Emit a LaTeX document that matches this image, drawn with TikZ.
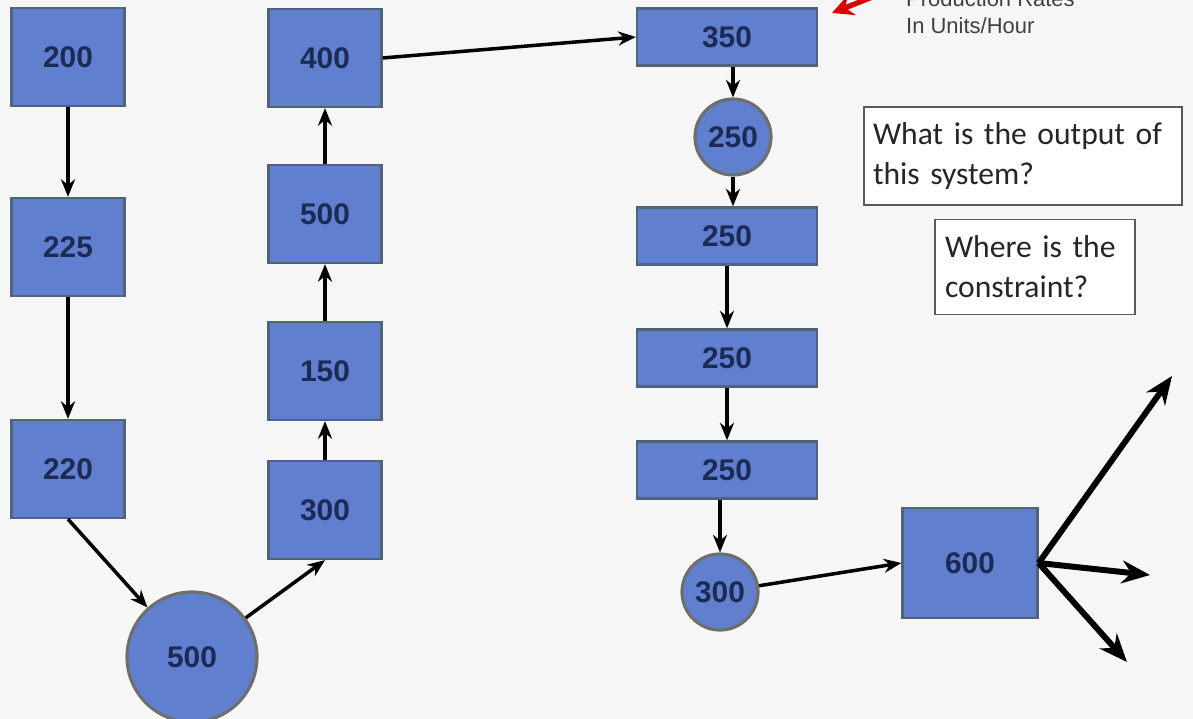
\documentclass[tikz,border=0pt]{standalone}
\usepackage{fontspec}
\setmainfont{Liberation Sans}
\newfontfamily\qfont{Carlito}
\usetikzlibrary{arrows.meta}

\definecolor{paper}{HTML}{F6F6F6}
\definecolor{boxblue}{HTML}{6080CF}
\definecolor{edgegray}{HTML}{4F6478}
\definecolor{ringgray}{HTML}{6E6E6E}
\definecolor{numblue}{HTML}{1C2A55}

\tikzset{
	station/.style={draw=edgegray, fill=boxblue, line width=1.3pt, minimum width=2.26cm, minimum height=1.96cm,
		inner sep=0pt, text=numblue, font=\bfseries\fontsize{17}{17}\selectfont},
	wide/.style={station, minimum width=3.6cm, minimum height=1.14cm},
	buffer/.style={circle, draw=ringgray, fill=boxblue, line width=1.8pt, inner sep=0pt,
		text=numblue, font=\bfseries\fontsize{17}{17}\selectfont},
	flow/.style={-{Stealth[length=10pt,width=8pt]}, line width=2pt},
	bigflow/.style={-{Stealth[length=16pt,width=13pt]}, line width=3.4pt},
	question/.style={draw=gray!70!black, fill=white, line width=1.1pt, align=left, inner sep=5pt,
		text=black!85, font=\qfont\fontsize{18}{22.7}\selectfont},
}

\begin{document}
\begin{tikzpicture}[x=0.02cm, y=-0.02cm]
	\clip (0,0) rectangle (1193,719);
	\fill[paper] (0,0) rectangle (1193,719);

	% first line
	\node[station] (s200) at (68,57) {200};
	\node[station] (s225) at (68,247) {225};
	\node[station] (s220) at (68,469) {220};
	\node[buffer, minimum size=2.6cm] (b500) at (192,657) {500};
	\node[station] (s300) at (325,510) {300};
	\node[station] (s150) at (325,371) {150};
	\node[station] (s500) at (325,214) {500};
	\node[station] (s400) at (325,58) {400};

	% second line
	\node[wide] (w350) at (727,37) {350};
	\node[buffer, minimum size=1.52cm] (b250) at (733,137) {250};
	\node[wide] (w250a) at (727,236) {250};
	\node[wide] (w250b) at (727,358) {250};
	\node[wide] (w250c) at (727,470) {250};
	\node[buffer, minimum size=1.52cm] (b300) at (720,592) {300};
	\node[station, minimum width=2.7cm, minimum height=2.2cm] (s600) at (970,563) {600};

	% notes
	\node[question, minimum width=6.2cm, minimum height=1.96cm, text width=6.0cm] (q1) at (1023,156)
		{What is the output of\\this system?};
	\node[question, minimum width=4cm, minimum height=1.9cm, text width=3.6cm] (q2) at (1035,267)
		{Where is the\\constraint?};
	\node[align=left, anchor=west, text=black!75, font=\fontsize{12.5}{15}\selectfont] (rates) at (900,12)
		{Production Rates\\In Units/Hour};
	\coordinate (rtail) at (880,-6);
	\coordinate (rtip) at (832,13);
	\draw[-{Stealth[length=12pt,width=12pt]}, red!85!black, line width=3pt] (rtail) -- (rtip);

	% connectors
	\draw[flow] (s200) -- (s225);
	\draw[flow] (s225) -- (s220);
	\draw[flow] (s220.south) -- (b500);
	\draw[flow] (b500) -- (s300.south);
	\draw[flow] (s300) -- (s150);
	\draw[flow] (s150) -- (s500);
	\draw[flow] (s500) -- (s400);
	\draw[flow] (s400.east) -- (w350.west);
	\draw[flow] (w350.south -| b250) -- (b250);
	\draw[flow] (b250) -- (w250a.north -| b250);
	\draw[flow] (w250a) -- (w250b);
	\draw[flow] (w250b) -- (w250c);
	\draw[flow] (w250c.south -| b300) -- (b300);
	\draw[flow] (b300) -- (s600.west);

	% outputs
	\coordinate (out1) at (1172,376);
	\coordinate (out2) at (1150,575);
	\coordinate (out3) at (1127,662);
	\draw[bigflow] (s600.east) -- (out1);
	\draw[bigflow] (s600.east) -- (out2);
	\draw[bigflow] (s600.east) -- (out3);
\end{tikzpicture}
\end{document}
